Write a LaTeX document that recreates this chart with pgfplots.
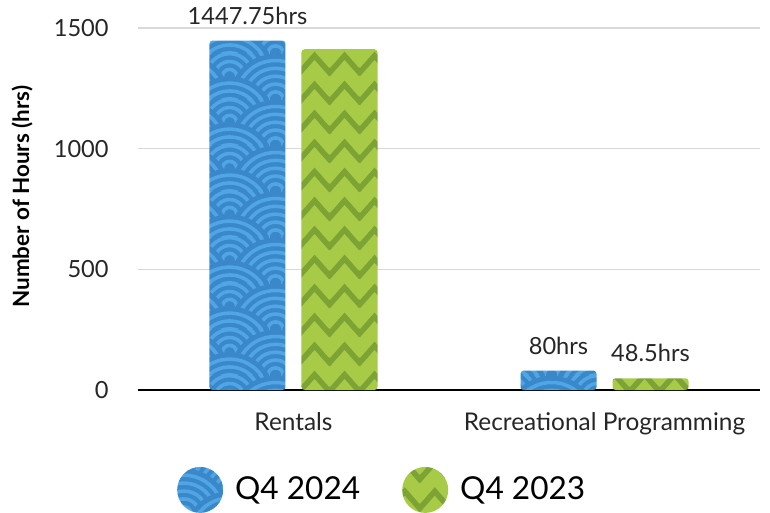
\documentclass[border=0pt]{standalone}
\usepackage{fontspec}
\setmainfont{Lato}
\usepackage{pgfplots}
\pgfplotsset{compat=1.18}
\usetikzlibrary{patterns.meta}
\definecolor{sgbase}{RGB}{58,136,202}
\definecolor{sglight}{RGB}{80,166,228}
\definecolor{zzbase}{RGB}{167,203,71}
\definecolor{zzdark}{RGB}{124,163,52}
\definecolor{gridc}{RGB}{217,217,217}
\definecolor{txt}{RGB}{38,38,38}
\tikzdeclarepattern{
  name=seigaiha,
  type=colored,
  bounding box={(0bp,0bp) and (46bp,23bp)},
  tile size={(46bp,23bp)},
  code={
    \foreach \cx/\cy in {23/34.5, 0/23, 46/23, 23/11.5, 0/0, 46/0, 23/-11.5}{
      \fill[sgbase] (\cx bp,\cy bp) circle (23bp);
      \draw[sglight, line width=1.8bp] (\cx bp,\cy bp) circle (19.6bp) circle (15.6bp) circle (11.6bp) circle (7.6bp) circle (3.6bp);
    }
  }
}
\tikzdeclarepattern{
  name=zigzag,
  type=colored,
  bounding box={(0bp,0bp) and (15bp,14.5bp)},
  tile size={(15bp,14.5bp)},
  code={
    \fill[zzbase] (-1bp,-1bp) rectangle (16bp,15.5bp);
    \draw[zzdark, line width=2.8bp, line join=miter]
      (-7.5bp,11.5bp) -- (0bp,3bp) -- (7.5bp,11.5bp) -- (15bp,3bp) -- (22.5bp,11.5bp);
  }
}
\begin{document}
\begin{tikzpicture}
\begin{axis}[
  scale only axis,
  width=311bp, height=181bp,
  xmin=-0.5, xmax=1.5,
  ymin=0, ymax=1500,
  enlargelimits=false,
  clip=false,
  ybar=8bp, bar width=38bp,
  xtick={0,1},
  xticklabels={Rentals, Recreational Programming},
  ytick={0,500,1000,1500},
  /pgf/number format/assume math mode=true,
  /pgf/number format/1000 sep={},
  axis lines*=left,
  y axis line style={draw=none},
  x axis line style={black, line width=1bp, -},
  tick style={draw=none},
  major tick length=0pt,
  ymajorgrids,
  grid style={gridc, line width=0.8bp},
  yticklabel style={font=\fontsize{11.8bp}{14bp}\selectfont, color=txt, anchor=east, inner sep=0pt, xshift=-14.5bp},
  xticklabel style={font=\fontsize{12.2bp}{14bp}\selectfont, color=txt, anchor=north, inner sep=0pt, yshift=-11bp},
  ylabel={Number of Hours (hrs)},
  every axis y label/.style={at={(axis description cs:-0.1865,0.534)}, rotate=90, anchor=center, font=\fontsize{11.2bp}{13bp}\selectfont\bfseries},
  point meta=explicit symbolic,
  nodes near coords,
  every node near coord/.append style={font=\fontsize{11.8bp}{14bp}\selectfont, color=txt, anchor=south, inner sep=0pt, yshift=8bp},
  legend columns=2,
  legend style={draw=none, fill=none, at={(axis description cs:0.391,-0.276)}, anchor=center,
    font=\fontsize{15.8bp}{18bp}\selectfont,
    nodes={inner sep=0pt},
    /tikz/every odd column/.append style={column sep=6bp},
    /tikz/every even column/.append style={column sep=21bp}},
  legend image code/.code={\fill[#1] (11.5bp,0bp) circle (11.5bp);},
]
\coordinate (sw) at (rel axis cs:0,0);
\addplot[draw=none, pattern=seigaiha, rounded corners=1.5bp] coordinates {(0,1447.75) [1447.75hrs] (1,80) [80hrs]};
\addplot[draw=none, pattern=zigzag, rounded corners=1.5bp] coordinates {(0,1412) [\relax] (1,48.5) [48.5hrs]};
\legend{Q4 2024, Q4 2023}
\end{axis}
\pgfresetboundingbox
\path ([shift={(-69bp,-61.5bp)}]sw) rectangle ([shift={(316bp,195bp)}]sw);
\end{tikzpicture}
\end{document}
